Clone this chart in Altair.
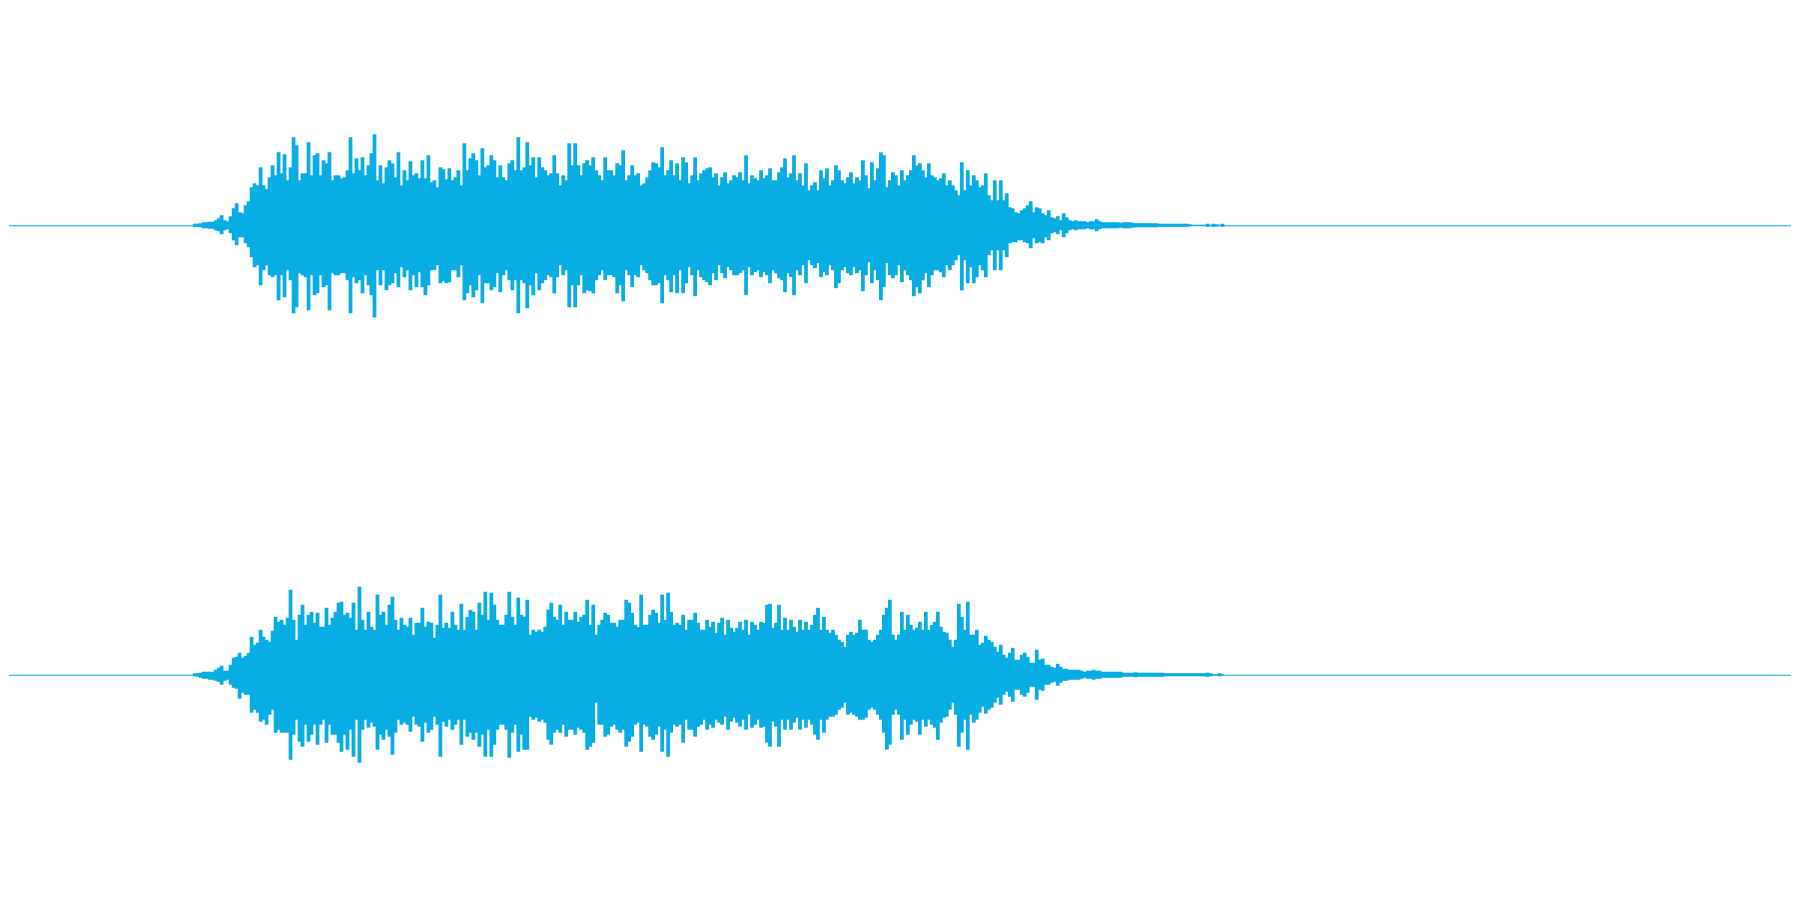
import altair as alt
import pandas as pd

COLOR = "#07ADE3"

# Peak levels per time bin (full scale = 225), bin 0 starts where the sound begins.
# Upper channel: positive peaks / negative peaks
T1 = [1.5,1.5,2,3,3,3.5,3.5,5,7,10,
      5,4,9,17,22,13,12,20,24,38,
      42,40,58,40,36,48,60,50,73,52,
      71,45,58,88,80,45,52,52,83,50,
      70,72,50,65,62,73,45,50,50,47,
      48,55,88,52,67,55,68,50,60,72,
      91,45,60,42,58,65,62,48,73,40,
      55,45,64,50,52,47,65,47,70,43,
      45,38,58,56,46,57,
      45,48,55,40,82,55,67,72,65,50,
      77,58,60,70,65,48,60,48,45,62,
      65,55,88,55,58,83,60,68,48,68,
      58,55,50,52,70,52,40,50,45,82,
      60,82,60,50,62,65,60,68,55,50,
      45,68,55,55,50,62,60,75,45,50,
      60,50,52,40,42,48,55,63,62,58,
      78,50,55,65,50,62,45,68,63,42,
      50,68,45,52,55,57,
      58,48,52,40,48,53,42,45,50,48,
      53,45,70,42,50,47,45,55,47,50,
      57,45,45,53,58,67,48,52,70,45,
      52,40,62,35,40,43,35,55,47,57,
      40,45,60,55,45,42,48,53,42,48,
      45,65,50,37,63,45,57,73,70,38,
      45,53,50,40,55,45,50,55,70,60,
      62,55,48,62,50,48,45,47,52,40,
      45,40,35,30,
      63,35,55,40,50,45,38,40,52,30,
      25,45,25,45,25,32,18,17,13,12,
      15,17,20,24,13,18,17,12,10,15,
      8,7,9,5,12,8,5,4,5,4,
      4,4,3,4,4,6,4,3,3,3,
      3,3,3,2.5,3,3,3,2.5,2,2,
      2,2,2,2,2,2,1.5,1.5,1.5,1.5,
      1.5,1.5,1.5,1.5,1.5,1.5,1,0.5,0.5,0.5,
      0.5,0.5,1.5,0.5,1.5,1,0.5,1.5]

B1 = [1.5,1.5,2,3,3,3.5,3.5,5,6,9,
      5,4,8,15,20,12,12,18,22,32,
      42,40,60,45,40,50,52,50,75,50,
      72,45,55,88,82,48,50,52,85,50,
      70,68,50,62,60,85,48,50,50,48,
      48,55,88,52,58,55,68,50,60,70,
      92,45,60,45,65,60,58,48,62,42,
      52,45,65,50,62,47,62,70,60,45,
      45,40,58,56,58,57,
      45,45,52,40,75,68,60,72,65,50,
      78,58,58,65,62,48,67,50,45,55,
      65,55,88,55,58,83,60,70,48,65,
      58,55,50,52,68,52,40,50,45,82,
      60,82,60,50,68,65,66,68,55,50,
      45,55,50,50,52,68,60,76,45,50,
      62,50,52,40,45,48,55,60,60,58,
      78,50,55,67,50,68,45,68,58,42,
      50,71,45,52,55,57,
      60,48,55,40,48,53,42,45,50,50,
      48,45,70,42,50,47,45,52,47,50,
      58,45,48,53,55,67,48,52,70,45,
      50,40,58,35,40,43,38,52,47,50,
      40,45,63,58,45,42,48,50,42,48,
      45,66,50,37,58,45,55,75,62,38,
      50,53,50,40,57,45,50,55,71,62,
      68,55,48,62,50,45,45,47,52,40,
      45,40,35,30,
      65,35,58,42,58,52,40,45,52,30,
      25,45,25,45,25,32,18,17,17,15,
      15,17,18,23,13,18,17,18,12,15,
      8,7,9,5,12,8,5,4,5,4,
      4,4,3,4,4,6,4,3,3,3,
      3,3,3,2.5,3,3,3,2.5,2,2,
      2,2,2,2,2,2,1.5,1.5,1.5,1.5,
      1.5,1.5,1.5,1.5,1.5,1.5,1,0.5,0.5,0.5,
      0.5,0.5,1.5,0.5,1.5,1,0.5,1.5]

# Lower channel
T2 = [1.5,1.5,2,3,3,3,3,5,7,9,
      4,4,10,17,18,22,17,19,22,38,
      30,32,45,38,35,33,44,58,53,55,
      50,57,85,55,35,60,70,50,60,63,
      52,62,48,48,67,50,57,63,72,73,
      60,62,57,72,45,88,55,45,63,48,
      45,80,60,63,50,70,78,55,45,57,
      50,48,57,40,52,52,67,48,53,52,
      37,50,80,47,52,47,
      63,50,45,71,45,58,65,63,45,72,
      60,83,55,82,70,55,50,50,60,83,
      58,50,77,60,58,75,40,45,43,45,
      43,48,65,72,58,55,70,50,63,55,
      55,63,53,58,60,75,50,70,40,50,
      55,62,60,52,52,48,55,55,75,72,
      62,50,48,80,50,50,60,65,62,52,
      80,55,82,63,50,52,50,60,45,55,
      55,62,52,45,45,55,
      48,53,42,52,57,40,55,47,43,47,
      53,45,55,40,53,50,45,53,52,70,
      71,47,52,70,45,57,45,55,48,43,
      55,45,53,45,50,60,67,45,58,45,
      42,45,40,35,33,28,40,43,40,42,
      55,45,45,35,33,35,40,45,60,67,
      75,40,35,40,63,45,60,50,45,47,
      53,45,63,45,50,53,63,48,43,42,
      35,28,35,71,
      58,45,73,40,40,45,30,32,39,35,
      33,28,23,30,20,17,22,27,15,15,
      20,22,18,12,12,25,15,16,10,10,
      8,7,11,8,6,6,5,5,5,5,
      4,3,4,4,5,4,4,3,3,3,
      3,3,3,3,2,2,2,2,2.5,2,
      2,2,2,2,2,2,2,2,1.5,1.5,
      1.5,1.5,1.5,1.5,1.5,1.5,1.5,1.5,1.5,1.5,
      1.5,1.5,2,1.5,0.5,0.5,1.5,0.5]

B2 = [1.5,2,3,4,4,5,5,6,7,10,
      6,5,10,13,14,24,18,20,20,38,
      35,38,47,45,50,40,35,58,55,58,
      58,58,85,60,45,67,72,50,67,60,
      50,70,50,45,68,50,60,60,68,77,
      60,75,55,82,45,88,55,45,53,48,
      52,75,60,65,55,62,80,58,45,50,
      48,50,57,42,50,52,67,48,58,55,
      42,50,82,47,52,45,
      55,50,45,70,45,62,58,65,58,72,
      60,82,55,82,70,55,50,50,55,83,
      58,50,77,60,75,75,42,45,43,47,
      45,48,65,70,58,55,58,50,62,55,
      55,60,53,55,58,75,72,68,28,50,
      50,62,60,52,50,55,58,55,72,67,
      62,50,48,77,50,52,62,65,60,52,
      77,55,82,58,50,52,50,68,45,55,
      55,62,52,50,45,55,
      50,53,45,48,50,42,55,47,43,48,
      52,45,55,40,53,50,45,53,52,68,
      72,47,52,72,45,55,45,55,48,43,
      55,45,53,45,50,60,65,45,58,45,
      42,42,40,35,33,28,40,38,40,42,
      45,45,43,35,33,35,40,45,58,75,
      70,40,35,40,65,45,60,50,45,47,
      60,45,52,45,50,53,65,48,43,42,
      35,28,40,72,
      58,45,75,40,48,45,38,32,39,35,
      33,28,23,30,20,17,22,27,15,15,
      20,22,18,12,12,25,15,16,10,10,
      8,7,11,8,6,6,5,5,5,5,
      4,3,4,4,5,4,4,3,3,3,
      3,3,3,3,2,2,2,2,2.5,2,
      2,2,2,2,2,2,2,2,1.5,1.5,
      1.5,1.5,1.5,1.5,1.5,1.5,1.5,1.5,1.5,1.5,
      1.5,1.5,2,1.5,0.5,0.5,1.5,0.5]

CHANNELS = ["upper", "lower"]
CENTERS = [225, -225]

rows = []
for ch, c, top, bot in [("upper", 225, T1, B1), ("lower", -225, T2, B2)]:
    n = min(len(top), len(bot))
    for i in range(n):
        rows.append({"ch": ch, "bin": i, "bin_end": i + 1.25,
                     "hi": c + top[i], "lo": c - bot[i]})
df = pd.DataFrame(rows)
base_df = pd.DataFrame({"ch": CHANNELS, "level": [c - 0.5 for c in CENTERS]})

W, H = 1784, 884
xscale = alt.Scale(domain=[(8 - 192) / 3, (1792 - 192) / 3], nice=False, zero=False)
yscale = alt.Scale(domain=[-442, 442], nice=False, zero=False)

baseline = alt.Chart(base_df).mark_rule(color=COLOR, strokeWidth=1).encode(
    y=alt.Y("level:Q", scale=yscale, axis=None),
    x=alt.value(0),
    x2=alt.value(W),
)

wave = alt.Chart(df).mark_rect(color=COLOR, strokeWidth=0, opacity=1).encode(
    x=alt.X("bin:Q", scale=xscale, axis=None),
    x2="bin_end:Q",
    y=alt.Y("hi:Q", scale=yscale, axis=None),
    y2="lo:Q",
)

chart = alt.layer(baseline, wave).properties(
    width=W, height=H, padding=0, background="white"
).configure_view(strokeWidth=0)

chart.save("out.html", embed_options={"renderer": "svg", "actions": False})
